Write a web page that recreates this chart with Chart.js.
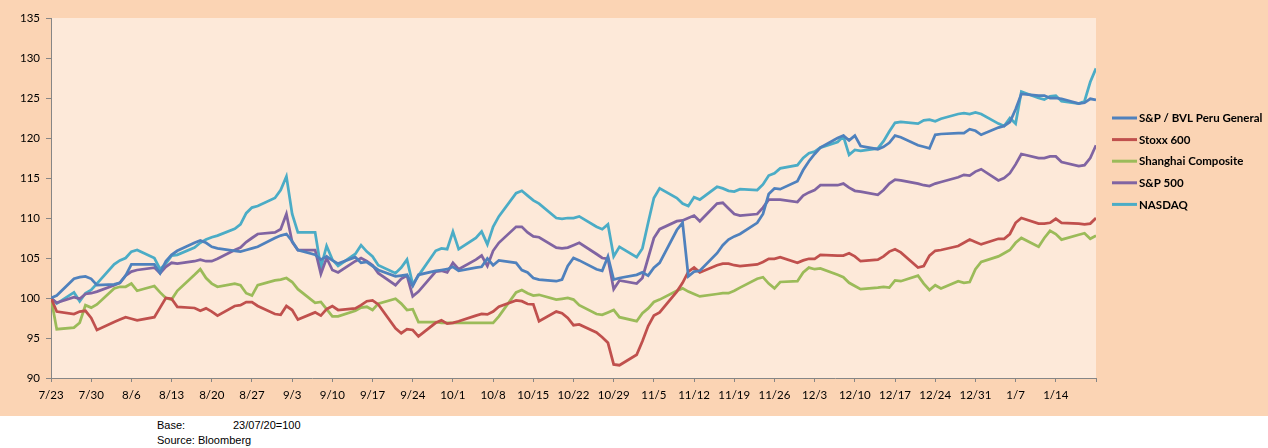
<!DOCTYPE html>
<html>
<head>
<meta charset="utf-8">
<script src="https://cdn.jsdelivr.net/npm/chart.js@4"></script>
<style>
  html, body { margin: 0; padding: 0; background: #ffffff; }
  #wrap { position: relative; width: 1268px; height: 448px; }
  #myChart { display: block; }
  .note { position: absolute; left: 157px; font: 11px "Liberation Sans", Arial, sans-serif; color: #000; }
</style>
</head>
<body>
<div id="wrap">
  <canvas id="myChart" width="1268" height="416"></canvas>
  <div class="note" style="top:419px;">Base:<span style="position:absolute;left:76px;white-space:nowrap;">23/07/20=100</span></div>
  <div class="note" style="top:434px;white-space:nowrap;">Source: Bloomberg</div>
</div>
<script>
// trading days, counted from 23/07/2020
const days = [
  0, 1, 4, 5, 6,   7, 8, 11, 12, 13,   14, 15, 18, 19, 20,   21, 22, 25, 26, 27,
  28, 29, 32, 33, 34,   35, 36, 39, 40, 41,   42, 43, 46, 47, 48,   49, 50, 53, 54, 55,
  56, 57, 60, 61, 62,   63, 64, 67, 68, 69,   70, 71, 74, 75, 76,   77, 78, 81, 82, 83,
  84, 85, 88, 89, 90,   91, 92, 95, 96, 97,   98, 99, 102, 103, 104,   105, 106, 109, 110, 111,
  112, 113, 116, 117, 118,   119, 120, 123, 124, 125,   126, 127, 130, 131, 132,   133, 134, 137, 138, 139,
  140, 141, 144, 145, 146,   147, 148, 151, 152, 153,   154, 155, 158, 159, 160,   161, 162, 165, 166, 167,
  168, 169, 172, 173, 174,   175, 176, 179, 180, 181,   182
];

const peru = [
  100, 100.3, 102.4, 102.6, 102.7,   102.4, 101.6, 101.7, 101.9, 102.8,   104.2, 104.2, 104.2, 103.1, 104.6,   105.4, 105.9, 106.9, 107.2, 106.9,
  106.4, 106.2, 105.9, 105.8, 106.0,   106.2, 106.4, 107.5, 107.8, 108.0,   107.1, 106.0, 105.4, 104.8, 105.2,   104.7, 104.3, 105.1, 104.4, 104.5,
  104.0, 103.5, 102.7, 102.8, 102.9,   101.5, 102.9, 103.4, 103.5, 103.6,   103.9, 103.4, 103.8, 103.9, 104.95,   104.1, 104.7, 104.4, 103.5, 103.2,
  102.5, 102.3, 102.1, 102.3, 104.0,   105.0, 104.7, 103.6, 103.4, 105.2,   102.3, 102.5, 102.9, 103.2, 102.8,   103.8, 104.4, 108.5, 109.4, 102.7,
  103.3, 103.4, 105.6, 106.6, 107.3,   107.7, 108.0, 109.4, 110.5, 113.0,   113.7, 113.6, 114.6, 116.0, 117.1,   118.0, 118.8, 120.0, 120.3, 119.7,
  120.3, 119.0, 118.6, 118.9, 119.4,   120.3, 120.1, 119.1, 118.9, 118.7,   120.4, 120.5, 120.6, 120.6, 121.1,   120.9, 120.4, 121.3, 121.5, 122.0,
  123.6, 125.5, 125.3, 125.3, 125.0,   125.0, 124.9, 124.3, 124.4, 124.9,   124.75
];

const stoxx = [
  100, 98.3, 98.0, 98.3, 98.4,   97.5, 96.0, 97.0, 97.3, 97.6,   97.4, 97.2, 97.6, 98.8, 100.0,   99.9, 98.9, 98.75, 98.4, 98.7,
  98.3, 97.8, 99.0, 99.1, 99.5,   99.5, 99.0, 98.0, 97.9, 99.0,   98.5, 97.3, 98.2, 97.8, 98.6,   99.0, 98.5, 98.7, 99.1, 99.6,
  99.7, 99.2, 96.2, 95.6, 96.1,   96.0, 95.2, 96.9, 97.2, 96.8,   96.9, 97.1, 97.8, 98.0, 97.95,   98.3, 98.9, 99.7, 99.6, 99.25,
  99.2, 97.1, 98.3, 98.1, 97.5,   96.6, 96.7, 95.7, 95.1, 94.4,   91.7, 91.6, 92.9, 94.6, 96.5,   97.8, 98.2, 100.8, 101.9, 103.3,
  103.8, 103.2, 104.1, 104.3, 104.3,   104.1, 104.0, 104.2, 104.5, 104.9,   104.9, 105.1, 104.4, 104.7, 104.9,   104.9, 105.4, 105.3, 105.3, 105.6,
  105.2, 104.6, 104.8, 105.2, 105.8,   106.1, 105.7, 103.8, 104.0, 105.3,   105.9, 106.0, 106.5, 106.9, 107.3,   107.0, 106.7, 107.4, 107.4, 108.0,
  109.4, 110.0, 109.3, 109.3, 109.4,   109.9, 109.4, 109.3, 109.2, 109.3,   110.0
];

const shanghai = [
  100, 96.1, 96.3, 96.9, 99.1,   98.8, 99.2, 101.2, 101.4, 101.4,   101.8, 100.9, 101.5, 100.7, 100.0,   99.8, 100.9, 102.9, 103.6, 102.5,
  101.8, 101.4, 101.8, 101.6, 100.6,   100.3, 101.6, 102.2, 102.3, 102.5,   102.0, 101.1, 99.4, 99.5, 98.6,   97.7, 97.7, 98.4, 98.8, 98.9,
  98.5, 99.3, 99.9, 99.3, 98.5,   98.6, 97.0, 97.0, 96.9, 96.9,   96.9, 96.9, 96.9, 96.9, 96.9,   96.9, 97.7, 100.7, 101.0, 100.6,
  100.3, 100.4, 99.8, 99.9, 100.0,   99.8, 99.1, 98.0, 97.9, 98.2,   98.5, 97.6, 97.1, 98.1, 98.7,   99.5, 99.8, 100.9, 101.2, 100.8,
  100.5, 100.2, 100.5, 100.6, 100.6,   100.9, 101.3, 102.4, 102.6, 101.8,   101.2, 102.0, 102.1, 103.2, 103.8,   103.6, 103.7, 102.9, 102.6, 101.9,
  101.5, 101.1, 101.3, 101.4, 101.3,   102.2, 102.1, 102.8, 101.8, 101.0,   101.6, 101.2, 102.1, 101.9, 102.0,   103.6, 104.5, 105.2, 105.6, 106.0,
  106.9, 107.5, 106.4, 107.5, 108.4,   108.0, 107.3, 107.9, 108.1, 107.4,   107.8
];

const sp500 = [
  100, 99.4, 100.1, 99.9, 100.5,   100.6, 100.8, 101.6, 101.9, 102.8,   103.3, 103.5, 103.8, 103.1, 103.9,   104.4, 104.3, 104.6, 104.8, 104.6,
  104.6, 104.9, 106.0, 106.3, 107.0,   107.5, 108.0, 108.2, 108.6, 110.5,   107.0, 106.0, 106.0, 103.0, 105.0,   103.5, 103.2, 104.6, 105.0, 104.6,
  104.1, 103.1, 101.6, 102.4, 102.8,   100.2, 100.8, 103.3, 103.4, 103.2,   104.4, 103.6, 104.8, 105.3, 104.0,   105.9, 106.9, 108.9, 108.9, 108.2,
  107.7, 107.6, 106.3, 106.2, 106.3,   106.6, 106.9, 105.5, 105.0, 104.9,   101.1, 102.2, 101.8, 102.5, 105.0,   107.5, 108.6, 109.6, 109.7, 110.0,
  110.3, 109.6, 111.8, 111.9, 111.2,   110.5, 110.3, 110.5, 111.3, 112.3,   112.3, 112.3, 112.0, 112.8, 113.2,   113.5, 114.1, 114.1, 114.3, 113.8,
  113.4, 113.3, 112.9, 113.5, 114.3,   114.8, 114.7, 114.3, 114.1, 114.0,   114.3, 114.5, 115.1, 115.4, 115.3,   115.8, 116.1, 114.7, 115.0, 115.6,
  116.7, 118.0, 117.5, 117.5, 117.7,   117.7, 117.0, 116.5, 116.6, 117.5,   119.1
];

const nasdaq = [
  100, 99.3, 100.7, 99.6, 100.6,   101.0, 101.8, 104.2, 104.7, 105.0,   105.8, 106.0, 105.0, 103.6, 104.3,   105.3, 105.4, 106.3, 106.9, 107.3,
  107.6, 107.8, 108.65, 109.2, 110.6,   111.3, 111.5, 112.5, 113.5, 115.2,   110.5, 108.2, 108.2, 103.8, 106.5,   104.8, 104.0, 105.5, 106.6, 105.8,
  105.2, 104.1, 103.1, 103.8, 104.8,   101.7, 102.8, 105.9, 106.2, 106.1,   108.3, 106.1, 107.5, 108.3, 106.7,   108.9, 110.2, 113.1, 113.4, 112.8,
  112.2, 111.8, 110.0, 109.9, 110.0,   110.0, 110.2, 108.9, 108.6, 109.2,   105.2, 106.4, 105.1, 106.2, 109.4,   112.5, 113.7, 112.5, 111.8, 111.5,
  112.6, 112.3, 113.9, 113.7, 113.4,   113.3, 113.6, 113.5, 114.2, 115.3,   115.6, 116.2, 116.6, 117.5, 118.1,   118.3, 118.8, 119.5, 120.2, 117.9,
  118.5, 118.4, 118.7, 119.6, 120.8,   121.9, 122.0, 121.8, 122.2, 122.3,   122.1, 122.4, 123.0, 123.1, 123.0,   123.2, 123.0, 121.8, 121.5, 122.5,
  121.8, 125.8, 125.0, 124.8, 125.2,   125.3, 124.6, 124.3, 124.6, 127.0,   128.7
];

const seriesNames = ['S&P / BVL Peru General', 'Stoxx 600', 'Shanghai Composite', 'S&P 500', 'NASDAQ'];
const seriesColors = ['#4F81BD', '#C0504D', '#9BBB59', '#8064A2', '#4BACC6'];
const yTicks = { min: 90, max: 135, step: 5 };

const allValues = [peru, stoxx, shanghai, sp500, nasdaq];
const fontFamily = 'Lato, "Open Sans", sans-serif';

function toLabel(v) {
  const d = new Date(2020, 6, 23 + v);
  return (d.getMonth() + 1) + '/' + d.getDate();
}

const bgPlugin = {
  id: 'bg',
  beforeDraw(chart) {
    const c = chart.ctx, a = chart.chartArea;
    c.save();
    c.fillStyle = '#FBD4B4';
    c.fillRect(0, 0, chart.width, chart.height);
    c.fillStyle = '#FDE9D9';
    c.fillRect(a.left, a.top, a.right - a.left, a.bottom - a.top);
    c.restore();
  }
};

// legend drawn as short lines at the right, like the original
const sideLegend = {
  id: 'sideLegend',
  afterDraw(chart) {
    const c = chart.ctx;
    c.save();
    chart.data.datasets.forEach((ds, i) => {
      const y = 118 + i * 21.6;
      c.strokeStyle = ds.borderColor;
      c.lineWidth = 3;
      c.beginPath();
      c.moveTo(1112, y);
      c.lineTo(1137, y);
      c.stroke();
      c.fillStyle = '#000';
      c.font = 'bold 11.5px ' + fontFamily;
      c.textBaseline = 'middle';
      c.fillText(ds.label, 1139, y + 0.5);
    });
    c.restore();
  }
};

const ctx = document.getElementById('myChart');
const chart = new Chart(ctx, {
  type: 'line',
  data: {
    datasets: seriesNames.map((name, i) => ({
      label: name,
      data: days.map((d, j) => ({ x: d, y: allValues[i][j] })),
      borderColor: seriesColors[i],
      backgroundColor: seriesColors[i],
      borderWidth: 2.75,
      pointRadius: 0,
      tension: 0
    }))
  },
  options: {
    responsive: false,
    animation: false,
    layout: { padding: { top: 18, right: 172, left: 0, bottom: 0 } },
    plugins: {
      legend: { display: false },
      tooltip: { enabled: false }
    },
    scales: {
      x: {
        type: 'linear',
        min: 0,
        max: 182,
        afterFit(scale) { scale.height = 38; },
        border: { display: true, color: '#868686', width: 1 },
        grid: { drawOnChartArea: false, drawTicks: true, tickLength: 4, color: '#868686' },
        ticks: {
          stepSize: 7,
          autoSkip: false,
          maxRotation: 0,
          padding: 6,
          color: '#000',
          font: { family: fontFamily, size: 11.5 },
          callback: (v) => v >= 182 ? '' : toLabel(v)
        }
      },
      y: {
        min: yTicks.min,
        max: yTicks.max,
        afterFit(scale) { scale.width = 51; },
        border: { display: true, color: '#868686', width: 1 },
        grid: { drawOnChartArea: false, drawTicks: true, tickLength: 5, color: '#868686' },
        ticks: {
          stepSize: yTicks.step,
          padding: 6,
          color: '#000',
          font: { family: fontFamily, size: 11.5 }
        }
      }
    }
  },
  plugins: [bgPlugin, sideLegend]
});
</script>
</body>
</html>
